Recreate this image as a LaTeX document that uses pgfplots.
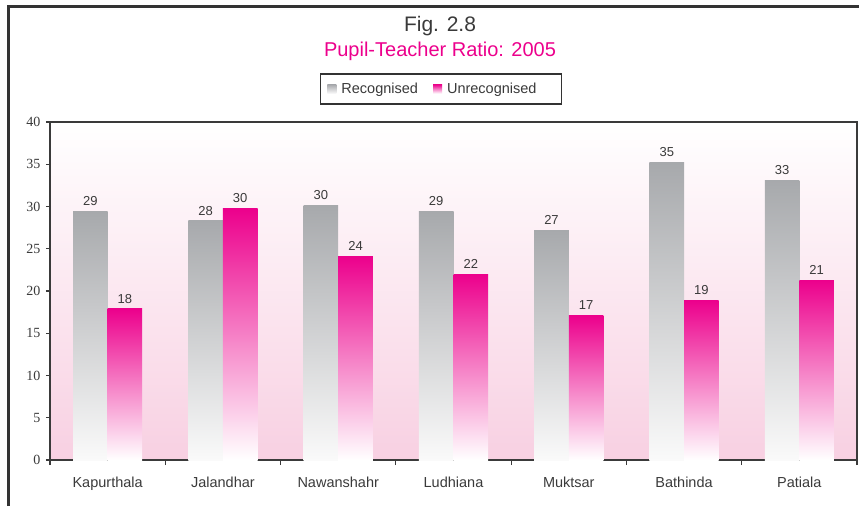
\documentclass[border=0pt]{standalone}
\usepackage{pgfplots}
\pgfplotsset{compat=1.18}
\usepackage{fontspec}
\setmainfont{Liberation Sans}
\newfontfamily\seriffont{Liberation Serif}
\definecolor{rectop}{HTML}{A7A9AC}
\definecolor{recbot}{HTML}{FAFAFA}
\definecolor{unrtop}{HTML}{EC008C}
\definecolor{unrbot}{HTML}{FFFFFF}
\definecolor{bgtop}{HTML}{FFFFFF}
\definecolor{bgbot}{HTML}{F8D0E2}
\definecolor{txt}{HTML}{3A3A3A}
\definecolor{mag}{HTML}{EC008C}
\definecolor{framec}{HTML}{333333}
\begin{document}
\begin{tikzpicture}[x=1pt,y=1pt]
\useasboundingbox (0,0) rectangle (859,506);
\draw[line width=3pt, color=framec] (8,0) -- (8,499) -- (859,499);
\node[anchor=base, font=\fontsize{21}{24}\selectfont, text=txt, inner sep=0] at (440,474) {Fig. 2.8};
\node[anchor=base, font=\fontsize{20}{24}\selectfont, text=mag, inner sep=0] at (440,449) {Pupil-Teacher Ratio: 2005};
\begin{axis}[
  at={(50pt,46pt)}, anchor=south west,
  scale only axis, width=807pt, height=338pt,
  xmin=-0.5, xmax=6.5, ymin=0, ymax=40,
  enlargelimits=false,
  /pgf/number format/assume math mode=true,
  axis background/.style={top color=bgtop, bottom color=bgbot},
  axis line style={color=txt, line width=1.3pt},
  tick style={color=txt, line width=1.1pt},
  tick align=outside,
  xtick pos=bottom, ytick pos=left,
  xtick={0,...,6},
  xticklabels={Kapurthala,Jalandhar,Nawanshahr,Ludhiana,Muktsar,Bathinda,Patiala},
  major x tick style={draw=none},
  minor xtick={-0.5,0.5,...,6.5},
  major tick length=4pt,
  minor tick length=5pt,
  ytick={0,5,...,40},
  yticklabel style={font=\seriffont\fontsize{14}{16}\selectfont, text=txt, xshift=-2pt},
  xticklabel style={font=\fontsize{14.5}{16}\selectfont, text=txt, yshift=-9pt},
  ybar, bar width=0.3,
  nodes near coords={\pgfmathprintnumber[fixed,precision=0]{\pgfplotspointmeta}},
  every node near coord/.append style={font=\fontsize{13}{15}\selectfont, text=txt, yshift=2pt},
  R/.style={draw=none, top color=rectop, bottom color=recbot, bar shift=-0.15, forget plot},
  U/.style={draw=none, top color=unrtop, bottom color=unrbot, bar shift=0.15, forget plot},
  legend columns=2,
  legend style={at={(0.4845,1.0976)}, anchor=center, draw=framec, line width=1.2pt,
    font=\fontsize{14.5}{16}\selectfont, text=txt, inner xsep=7pt, inner ysep=7pt,
    /tikz/every even column/.append style={column sep=13pt}},
]
\addlegendimage{legend image code/.code={\path[draw=none, top color=rectop, bottom color=recbot] (0pt,-4.5pt) rectangle (9pt,4.5pt); \path[draw=none] (0pt,0pt) -- (12pt,0pt);}}
\addlegendentry{Recognised}
\addlegendimage{legend image code/.code={\path[draw=none, top color=unrtop, bottom color=unrbot] (0pt,-4.5pt) rectangle (9pt,4.5pt); \path[draw=none] (0pt,0pt) -- (12pt,0pt);}}
\addlegendentry{Unrecognised\kern16pt}
% Recognised
\addplot[R] coordinates {(0,29.4)};
\addplot[R] coordinates {(1,28.3)};
\addplot[R] coordinates {(2,30.1)};
\addplot[R] coordinates {(3,29.4)};
\addplot[R] coordinates {(4,27.2)};
\addplot[R] coordinates {(5,35.2)};
\addplot[R] coordinates {(6,33.1)};
% Unrecognised
\addplot[U] coordinates {(0,17.9)};
\addplot[U] coordinates {(1,29.8)};
\addplot[U] coordinates {(2,24.1)};
\addplot[U] coordinates {(3,22.0)};
\addplot[U] coordinates {(4,17.1)};
\addplot[U] coordinates {(5,18.9)};
\addplot[U] coordinates {(6,21.3)};
\end{axis}
\end{tikzpicture}
\end{document}
